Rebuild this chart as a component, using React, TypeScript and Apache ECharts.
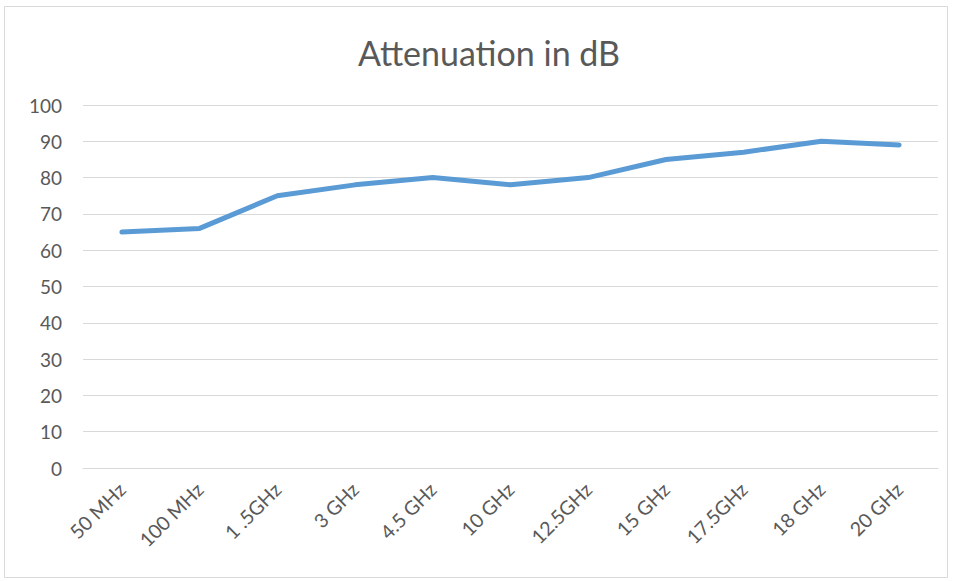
import React, { useEffect, useRef } from "react";
import * as echarts from "echarts";

const categories = ["50 MHz", "100 MHz", "1 .5GHz", "3 GHz", "4.5 GHz", "10 GHz", "12.5GHz", "15 GHz", "17.5GHz", "18 GHz", "20 GHz"];
const attenuation = [65, 66, 75, 78, 80, 78, 80, 85, 87, 90, 89];
const chartTitle = "Attenuation in dB";

export default function App() {
  const ref = useRef<HTMLDivElement>(null);
  useEffect(() => {
    if (!ref.current) return;
    const chart = echarts.init(ref.current, null, { renderer: "svg" });
    const font = "Lato, 'Open Sans', sans-serif";
    chart.setOption({
      animation: false,
      backgroundColor: "#ffffff",
      graphic: [
        {
          type: "rect",
          shape: { x: 4.5, y: 6.5, width: 943, height: 571 },
          style: { fill: "none", stroke: "#D9D9D9", lineWidth: 1 },
          silent: true,
        },
      ],
      title: {
        text: chartTitle,
        left: 484,
        textAlign: "center",
        top: 30,
        textStyle: { fontFamily: font, fontSize: 34, fontWeight: "normal", color: "#595959" },
      },
      grid: { left: 83, right: 18, top: 105, bottom: 113, containLabel: false },
      xAxis: {
        type: "category",
        data: categories,
        boundaryGap: true,
        axisLine: { show: true, lineStyle: { color: "#D9D9D9", width: 1 } },
        axisTick: { show: false },
        axisLabel: {
          rotate: 45,
          interval: 0,
          margin: 18,
          fontFamily: font,
          fontSize: 19.5,
          color: "#595959",
        },
      },
      yAxis: {
        type: "value",
        min: 0,
        max: 100,
        interval: 10,
        axisLine: { show: false },
        axisTick: { show: false },
        splitLine: { show: true, lineStyle: { color: "#D9D9D9", width: 1 } },
        axisLabel: { margin: 21, fontFamily: font, fontSize: 19, color: "#595959" },
      },
      series: [
        {
          type: "line",
          data: attenuation,
          showSymbol: false,
          symbol: "none",
          lineStyle: { color: "#5B9BD5", width: 5, cap: "round", join: "round" },
        },
      ],
    });
    return () => chart.dispose();
  }, []);
  return (
    <div
      ref={ref}
      style={{ position: "absolute", left: 0, top: 0, width: 956, height: 581 }}
    />
  );
}
